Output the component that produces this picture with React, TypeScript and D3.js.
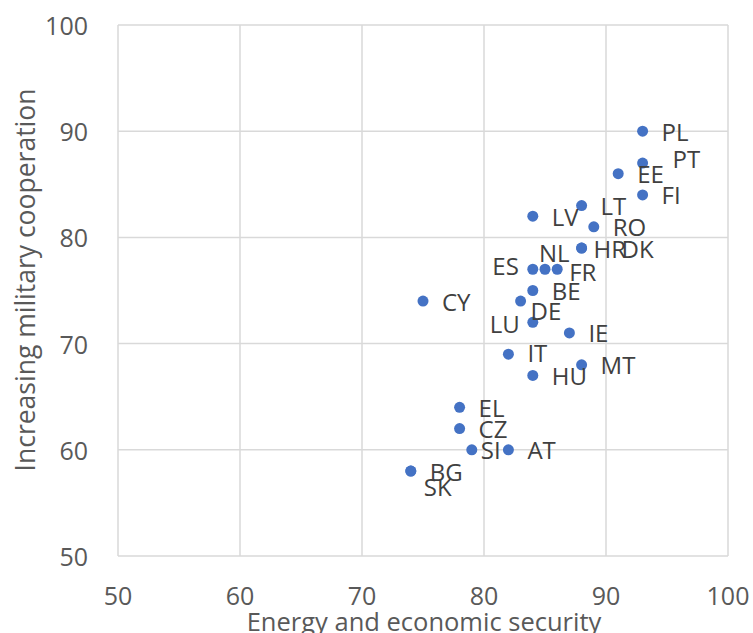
import { useEffect, useRef } from 'react'
import * as d3 from 'd3'

// country codes with their two scores
const countries = ['PL', 'PT', 'EE', 'FI', 'LT', 'LV', 'RO', 'HR', 'DK', 'ES', 'NL', 'FR', 'BE',
  'CY', 'DE', 'LU', 'IE', 'IT', 'MT', 'HU', 'EL', 'CZ', 'SI', 'AT', 'BG', 'SK']
const energySecurity = [93, 93, 91, 93, 88, 84, 89, 88, 88, 84, 85, 86, 84,
  75, 83, 84, 87, 82, 88, 84, 78, 78, 79, 82, 74, 74]
const militaryCoop = [90, 87, 86, 84, 83, 82, 81, 79, 79, 77, 77, 77, 75,
  74, 74, 72, 71, 69, 68, 67, 64, 62, 60, 60, 58, 58]
const xTicks = [50, 60, 70, 80, 90, 100]
const yTicks = [50, 60, 70, 80, 90, 100]

// hand-moved data labels (dx, dy, anchor) – everything else sits to the right
const labelNudge: Record<string, [number, number, string]> = {
  PT: [30, -5, 'start'],
  HR: [12, 0, 'start'],
  DK: [40, 0, 'start'],
  ES: [-14, -4, 'end'],
  NL: [-6, -17, 'start'],
  FR: [12, 2, 'start'],
  DE: [10, 9, 'start'],
  LU: [-13, 1, 'end'],
  SI: [9, 0, 'start'],
  SK: [13, 15, 'start'],
  IT: [19, -2, 'start'],
}

const W = 753
const H = 633
const FONT = '"Open Sans", "Liberation Sans", sans-serif'

export default function App() {
  const svgRef = useRef<SVGSVGElement>(null)

  useEffect(() => {
    const svg = d3.select(svgRef.current)
    svg.selectAll('*').remove()

    const x = d3.scaleLinear().domain([50, 100]).range([118, 728])
    const y = d3.scaleLinear().domain([50, 100]).range([556, 25])

    const g = svg.append('g')

    // ── grid ────────────────────────────────────────────
    g.selectAll('line.vgrid')
      .data(xTicks)
      .join('line')
      .attr('x1', d => x(d))
      .attr('x2', d => x(d))
      .attr('y1', y(50))
      .attr('y2', y(100))
      .attr('stroke', '#d9d9d9')
      .attr('stroke-width', 1.5)

    g.selectAll('line.hgrid')
      .data(yTicks)
      .join('line')
      .attr('x1', x(50))
      .attr('x2', x(100))
      .attr('y1', d => y(d))
      .attr('y2', d => y(d))
      .attr('stroke', '#d9d9d9')
      .attr('stroke-width', 1.5)

    // ── tick labels ─────────────────────────────────────
    g.selectAll('text.ytick')
      .data(yTicks)
      .join('text')
      .attr('x', 88)
      .attr('y', d => y(d))
      .attr('text-anchor', 'end')
      .attr('dominant-baseline', 'central')
      .attr('font-family', FONT)
      .attr('font-size', 25)
      .attr('fill', '#595959')
      .text(d => d)

    g.selectAll('text.xtick')
      .data(xTicks)
      .join('text')
      .attr('x', d => x(d))
      .attr('y', 595)
      .attr('text-anchor', 'middle')
      .attr('dominant-baseline', 'central')
      .attr('font-family', FONT)
      .attr('font-size', 25)
      .attr('fill', '#595959')
      .text(d => d)

    // ── axis titles ─────────────────────────────────────
    g.append('text')
      .attr('x', 424)
      .attr('y', 631)
      .attr('text-anchor', 'middle')
      .attr('font-family', FONT)
      .attr('font-size', 25.5)
      .attr('fill', '#595959')
      .text('Energy and economic security')

    g.append('text')
      .attr('transform', 'translate(25,280) rotate(-90)')
      .attr('text-anchor', 'middle')
      .attr('dominant-baseline', 'central')
      .attr('font-family', FONT)
      .attr('font-size', 26.5)
      .attr('fill', '#595959')
      .text('Increasing military cooperation')

    // ── points and labels ───────────────────────────────
    const idx = d3.range(countries.length)

    g.selectAll('circle.pt')
      .data(idx)
      .join('circle')
      .attr('cx', i => x(energySecurity[i]))
      .attr('cy', i => y(militaryCoop[i]))
      .attr('r', 5.5)
      .attr('fill', '#4472c4')

    g.selectAll('text.lbl')
      .data(idx)
      .join('text')
      .attr('x', i => x(energySecurity[i]) + (labelNudge[countries[i]]?.[0] ?? 19))
      .attr('y', i => y(militaryCoop[i]) + (labelNudge[countries[i]]?.[1] ?? 0))
      .attr('text-anchor', i => labelNudge[countries[i]]?.[2] ?? 'start')
      .attr('dominant-baseline', 'central')
      .attr('font-family', FONT)
      .attr('font-size', 24)
      .attr('fill', '#404040')
      .text(i => countries[i])

    return () => { svg.selectAll('*').remove() }
  }, [])

  return (
    <svg
      ref={svgRef}
      width={W}
      height={H}
      style={{ position: 'absolute', left: 0, top: 0, background: '#fff' }}
    />
  )
}
